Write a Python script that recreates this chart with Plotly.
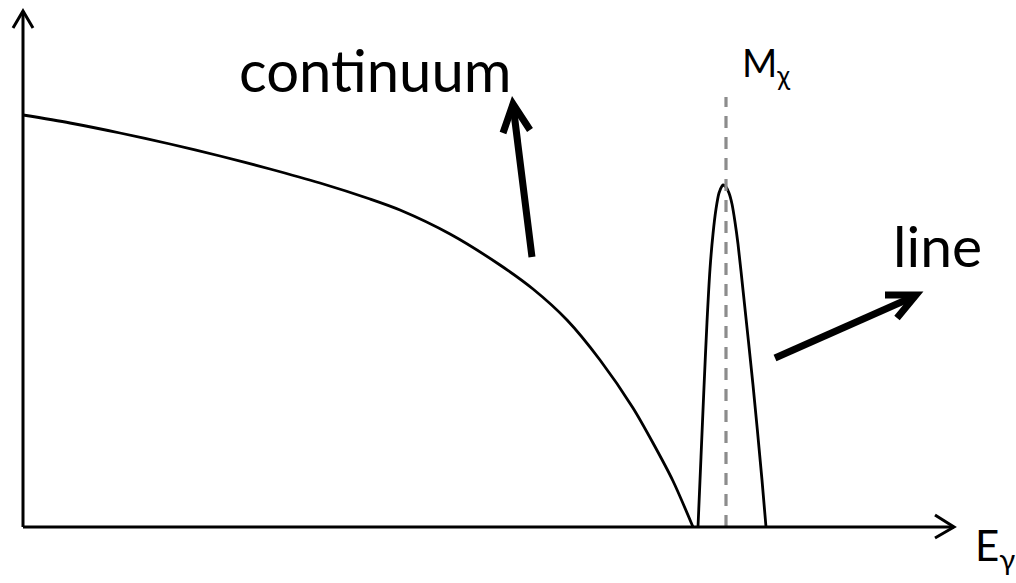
import plotly.graph_objects as go

# Continuum spectrum (energy, intensity) in arbitrary units
cont_E = [0, 47, 97, 147, 197, 247, 297, 347, 377, 427, 477, 510, 544, 577, 610, 630, 650, 670]
cont_I = [412, 404, 394, 383, 371, 358, 344, 328, 317, 293, 262, 238, 207, 167, 119, 84, 46, 0]

# Gamma-ray line (narrow peak at the dark matter mass)
line_E = [675, 678, 681, 684, 687, 690, 693, 696, 699, 700, 703, 706, 709, 712, 715, 720, 730, 739, 743]
line_I = [0, 70, 140, 205, 258, 293, 318, 334, 341, 342, 340, 334, 323, 305, 283, 237, 142, 47, 0]

M_chi = 703          # position of dark matter mass on energy axis
M_chi_top = 430      # height of dashed marker

FONT = "Lato"
fig = go.Figure()

fig.add_trace(go.Scatter(x=cont_E, y=cont_I, mode="lines",
                         line=dict(color="black", width=2.8, shape="spline", smoothing=0.8),
                         hoverinfo="skip", showlegend=False))
fig.add_trace(go.Scatter(x=line_E, y=line_I, mode="lines",
                         line=dict(color="black", width=2.8, shape="spline", smoothing=0.8),
                         hoverinfo="skip", showlegend=False))
fig.add_trace(go.Scatter(x=[M_chi, M_chi], y=[0, M_chi_top], mode="lines",
                         line=dict(color="#8c8c8c", width=3.2, dash="12px,9px"),
                         hoverinfo="skip", showlegend=False))

shapes = []
# axes
shapes.append(dict(type="path", path="M 0 0 L 0 516", line=dict(color="black", width=3)))
shapes.append(dict(type="path", path="M 0 0 L 931 0", line=dict(color="black", width=3)))
# axis arrowheads
shapes.append(dict(type="path", path="M -10 499 L 0 516 L 10 499", line=dict(color="black", width=3)))
shapes.append(dict(type="path", path="M 912 12 L 931 0 L 912 -11", line=dict(color="black", width=3)))
# continuum pointer arrow
shapes.append(dict(type="path", path="M 509 270 L 490 422", line=dict(color="black", width=7)))
shapes.append(dict(type="path", path="M 480 394 L 490 423 L 507 397", line=dict(color="black", width=7)))
# line pointer arrow
shapes.append(dict(type="path", path="M 752 169 L 892 231", line=dict(color="black", width=7)))
shapes.append(dict(type="path", path="M 862 232 L 893 232 L 874 209", line=dict(color="black", width=7)))
for s in shapes:
    s.update(xref="x", yref="y", layer="above")

annotations = [
    dict(x=352, y=421, text="continuum", xanchor="center", yanchor="bottom",
         font=dict(family=FONT, size=58, color="black")),
    dict(x=914, y=282, text="line", xanchor="center", yanchor="middle",
         font=dict(family=FONT, size=57, color="black")),
    dict(x=743, y=462, text="M<sub>χ</sub>", xanchor="center", yanchor="middle",
         font=dict(family=FONT, size=38, color="black")),
    dict(x=972, y=-21, text="E<sub>γ</sub>", xanchor="center", yanchor="middle",
         font=dict(family=FONT, size=42, color="black")),
]
for a in annotations:
    a.update(xref="x", yref="y", showarrow=False)

fig.update_layout(
    width=1016, height=583,
    margin=dict(l=0, r=0, t=0, b=0),
    paper_bgcolor="white", plot_bgcolor="white",
    xaxis=dict(range=[-23, 993], visible=False, fixedrange=True),
    yaxis=dict(range=[-56, 527], visible=False, fixedrange=True),
    shapes=shapes, annotations=annotations,
)

fig.write_html("out.html", config={"displayModeBar": False},
               post_script="document.body.style.margin='0';document.body.style.overflow='hidden';")
